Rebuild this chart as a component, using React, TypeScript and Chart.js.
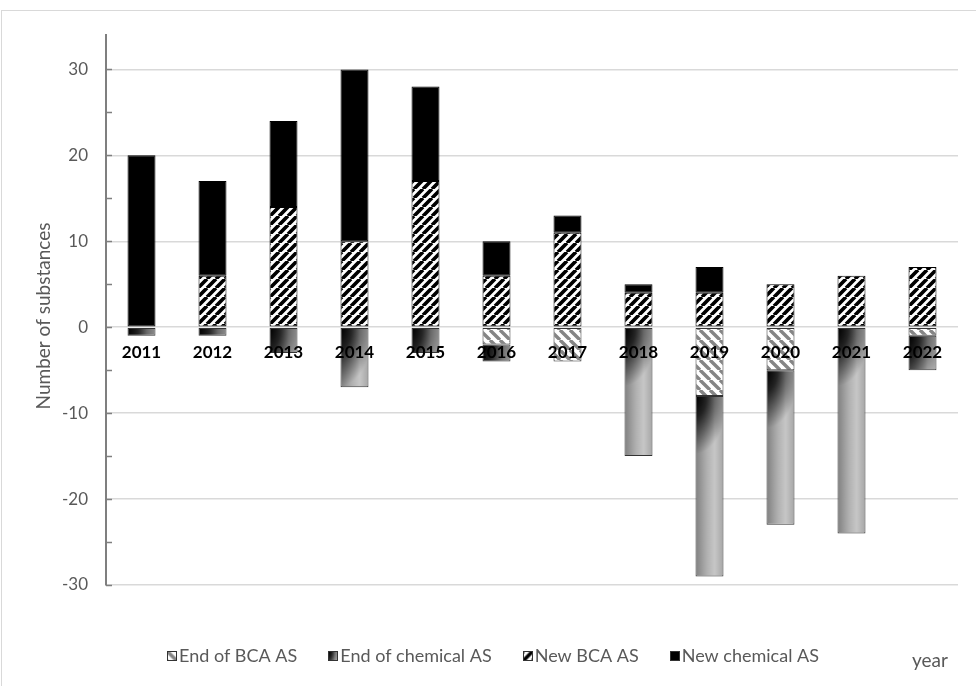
import React, { useEffect, useRef } from 'react';
import { Chart, registerables } from 'chart.js';

Chart.register(...registerables);

// ---- data ----
const years = ['2011', '2012', '2013', '2014', '2015', '2016', '2017', '2018', '2019', '2020', '2021', '2022'];
const endBCA = [0, 0, 0, 0, 0, -2, -4, 0, -8, -5, 0, -1];
const endChemical = [-1, -1, -3, -7, -3, -2, 0, -15, -21, -18, -24, -4];
const newBCA = [0, 6, 14, 10, 17, 6, 11, 4, 4, 5, 6, 7];
const newChemical = [20, 11, 10, 20, 11, 4, 2, 1, 3, 0, 0, 0];
const seriesNames = ['End of BCA AS', 'End of chemical AS', 'New BCA AS', 'New chemical AS'];
const yMin = -30;
const yMax = 34;
const yTickStep = 5;
const yLabelStep = 10;
const yTitle = 'Number of substances';
const xTitle = 'year';

const FONT = 'Lato, "Open Sans", sans-serif';
const GREY = '#595959';
const BORDER = '#333333';

function makeHatch(ctx: CanvasRenderingContext2D, size: number, lw: number, color: string, dir: string) {
  const c = document.createElement('canvas');
  c.width = size;
  c.height = size;
  const g = c.getContext('2d')!;
  g.fillStyle = '#ffffff';
  g.fillRect(0, 0, size, size);
  g.strokeStyle = color;
  g.lineWidth = lw;
  g.beginPath();
  for (const k of [-size, 0, size]) {
    if (dir === '/') {
      g.moveTo(k, size);
      g.lineTo(k + size, 0);
    } else {
      g.moveTo(k, 0);
      g.lineTo(k + size, size);
    }
  }
  g.stroke();
  return ctx.createPattern(c, 'repeat')!;
}

function makeChemTexture(w: number, h: number) {
  const c = document.createElement('canvas');
  c.width = Math.max(1, Math.ceil(w) + 1);
  c.height = Math.max(1, Math.ceil(h) + 1);
  const g = c.getContext('2d')!;
  const lin = g.createLinearGradient(0, 0, w, 0);
  lin.addColorStop(0, '#808080');
  lin.addColorStop(0.4, '#b0b0b0');
  lin.addColorStop(0.68, '#c7c7c7');
  lin.addColorStop(1, '#a6a6a6');
  g.fillStyle = lin;
  g.fillRect(0, 0, c.width, c.height);
  g.save();
  g.scale(1, 1.8);
  const rad = g.createRadialGradient(0, 0, 0, 0, 0, w * 1.15);
  rad.addColorStop(0, 'rgba(0,0,0,1)');
  rad.addColorStop(0.35, 'rgba(0,0,0,0.78)');
  rad.addColorStop(1, 'rgba(0,0,0,0)');
  g.fillStyle = rad;
  g.fillRect(0, 0, c.width, c.height / 1.8 + 1);
  g.restore();
  return c;
}

export default function App() {
  const ref = useRef<HTMLCanvasElement>(null);

  useEffect(() => {
    document.body.style.margin = '0';
    const canvas = ref.current!;
    const ctx = canvas.getContext('2d')!;
    const hatchNew = makeHatch(ctx, 9, 3.7, '#000000', '/');
    const hatchEnd = makeHatch(ctx, 10, 3.4, '#858585', '\\');

    const chemPlugin = {
      id: 'chemTexture',
      beforeDatasetsDraw(chart: any) {
        const meta = chart.getDatasetMeta(1);
        meta.data.forEach((el: any) => {
          const p = el.getProps(['x', 'y', 'base', 'width'], true);
          const top = Math.min(p.y, p.base);
          const h = Math.abs(p.y - p.base);
          if (h < 0.5) return;
          const left = p.x - p.width / 2;
          const tex = makeChemTexture(p.width, h);
          const pat = chart.ctx.createPattern(tex, 'repeat');
          pat.setTransform(new DOMMatrix([1, 0, 0, 1, left, top]));
          el.options = Object.assign({}, el.options, { backgroundColor: pat });
        });
      },
    };

    const decoPlugin = {
      id: 'deco',
      beforeDraw(chart: any) {
        const c = chart.ctx;
        c.save();
        c.strokeStyle = '#d9d9d9';
        c.lineWidth = 1;
        c.strokeRect(1.5, 10.5, 1000, 700);
        c.restore();
      },
      afterDatasetsDraw(chart: any) {
        const c = chart.ctx;
        const x = chart.scales.x;
        const y = chart.scales.y;
        const area = chart.chartArea;
        c.save();
        // inner tick marks
        c.strokeStyle = '#7f7f7f';
        c.lineWidth = 1.5;
        y.ticks.forEach((t: any) => {
          const py = Math.round(y.getPixelForValue(t.value)) + 0.5;
          c.beginPath();
          c.moveTo(area.left, py);
          c.lineTo(area.left + 6, py);
          c.stroke();
        });
        // category labels at zero line
        const y0 = y.getPixelForValue(0);
        c.fillStyle = '#000000';
        c.font = `bold 17px ${FONT}`;
        c.textAlign = 'center';
        c.textBaseline = 'middle';
        years.forEach((yr, i) => {
          c.fillText(yr, x.getPixelForValue(i), y0 + 25);
        });
        c.restore();
      },
      afterDraw(chart: any) {
        const c = chart.ctx;
        c.save();
        // y title
        c.fillStyle = GREY;
        c.font = `19px ${FONT}`;
        c.textAlign = 'center';
        c.textBaseline = 'middle';
        c.translate(44, 316);
        c.rotate(-Math.PI / 2);
        c.fillText(yTitle, 0, 0);
        c.restore();

        c.save();
        c.fillStyle = GREY;
        c.font = `19px ${FONT}`;
        c.textAlign = 'left';
        c.textBaseline = 'alphabetic';
        c.fillText(xTitle, 912, 667);
        c.restore();

        // legend
        c.save();
        c.font = `18px ${FONT}`;
        c.textBaseline = 'middle';
        c.textAlign = 'left';
        const box = 9;
        const gapBox = 3;
        const gapItem = 31;
        const widths = seriesNames.map((n) => c.measureText(n).width);
        const total = widths.reduce((a, w) => a + box + gapBox + w, 0) + gapItem * (seriesNames.length - 1);
        let lx = 493 - total / 2;
        const ly = 655;
        const fills: any[] = [
          hatchEnd,
          chart.ctx.createPattern(makeChemTexture(box, box), 'repeat'),
          hatchNew,
          '#000000',
        ];
        seriesNames.forEach((n, i) => {
          const bx = Math.round(lx) + 0.5;
          const by = Math.round(ly - box / 2) + 0.5;
          const f = fills[i];
          if (f && typeof f !== 'string' && f.setTransform) {
            f.setTransform(new DOMMatrix([1, 0, 0, 1, bx, by]));
          }
          c.fillStyle = f;
          c.fillRect(bx, by, box, box);
          c.strokeStyle = BORDER;
          c.lineWidth = 1;
          c.strokeRect(bx, by, box, box);
          c.fillStyle = GREY;
          c.fillText(n, lx + box + gapBox, ly + 1);
          lx += box + gapBox + widths[i] + gapItem;
        });
        c.restore();
      },
    };

    const common = {
      borderColor: BORDER,
      borderWidth: 1,
      borderSkipped: false,
      barPercentage: 0.394,
      categoryPercentage: 1,
    };

    const chart = new Chart(canvas, {
      type: 'bar',
      data: {
        labels: years,
        datasets: [
          { label: seriesNames[0], data: endBCA, backgroundColor: hatchEnd, ...common },
          { label: seriesNames[1], data: endChemical, backgroundColor: '#a6a6a6', ...common },
          { label: seriesNames[2], data: newBCA, backgroundColor: hatchNew, ...common, borderColor: '#000000' },
          { label: seriesNames[3], data: newChemical, backgroundColor: '#000000', ...common, borderColor: '#000000' },
        ],
      } as any,
      options: {
        animation: false,
        responsive: true,
        maintainAspectRatio: false,
        layout: { padding: { top: 35, bottom: 101, right: 18, left: 0 } },
        plugins: {
          legend: { display: false },
          tooltip: { enabled: false },
        },
        scales: {
          x: {
            display: false,
            stacked: true,
            offset: true,
          },
          y: {
            stacked: true,
            min: yMin,
            max: yMax,
            afterBuildTicks: (scale: any) => {
              scale.ticks = scale.ticks.filter((t: any) => t.value % yTickStep === 0);
            },
            afterFit: (scale: any) => {
              scale.width = 106;
            },
            ticks: {
              stepSize: yTickStep,
              color: GREY,
              padding: 18,
              font: { family: FONT, size: 17 },
              callback: (v: any) => (Number(v) % yLabelStep === 0 ? String(v) : ''),
            },
            grid: {
              drawTicks: false,
              color: (c: any) => (c.tick && c.tick.value % yLabelStep === 0 ? '#d9d9d9' : 'rgba(0,0,0,0)'),
              lineWidth: 1.5,
            },
            border: { display: true, color: '#7f7f7f', width: 2 },
          },
        },
      },
      plugins: [chemPlugin, decoPlugin],
    } as any);

    return () => chart.destroy();
  }, []);

  return (
    <div style={{ position: 'absolute', left: 0, top: 0, width: 976, height: 686 }}>
      <canvas ref={ref} />
    </div>
  );
}
